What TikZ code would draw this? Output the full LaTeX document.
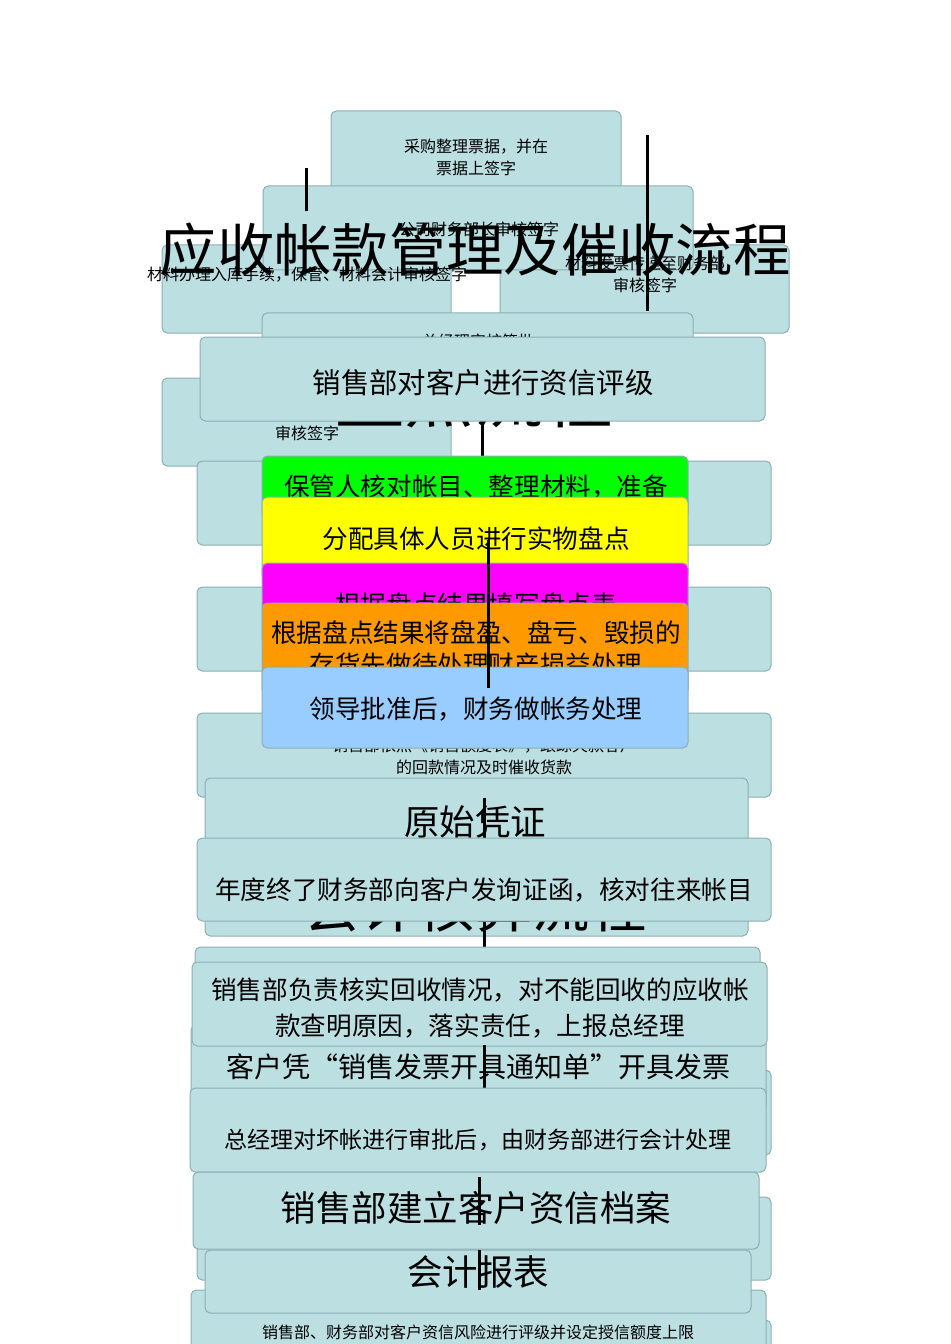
\documentclass[tikz,border=0pt]{standalone}
\usepackage{fontspec}
\setmainfont{Noto Sans CJK SC}
\usetikzlibrary{fit}
\definecolor{boxfill}{RGB}{188,223,226}
\definecolor{boxline}{RGB}{140,175,180}
\definecolor{stepgreen}{RGB}{0,255,0}
\definecolor{stepyellow}{RGB}{255,255,0}
\definecolor{steppink}{RGB}{255,0,255}
\definecolor{steporange}{RGB}{255,153,0}
\definecolor{stepblue}{RGB}{153,204,255}
\begin{document}
\begin{tikzpicture}[x=0.75pt,y=-0.75pt,
    box/.style={draw=boxline,fill=boxfill,rounded corners=4pt,line width=0.75pt,inner sep=0pt},
    link/.style={black,line width=2.25pt},
    sm/.style={font=\fontsize{12}{16.5}\selectfont,align=center,inner sep=0pt},
    md/.style={font=\fontsize{19.2}{27.5}\selectfont,align=center,inner sep=0pt},
    lg/.style={font=\fontsize{21.3}{26}\selectfont,align=center,inner sep=0pt},
    xl/.style={font=\fontsize{26.6}{32}\selectfont,inner sep=0pt},
    headline/.style={font=\fontsize{43}{50}\selectfont,inner sep=0pt}]
    \useasboundingbox (0,0) rectangle (950,1344);
    \clip (0,0) rectangle (950,1344);
    \node [box, fit={(331,111) (621,195)}] (buy) {};
    \node [sm] (buytxt) at (476,157) {采购整理票据，并在\\票据上签字};
    \node [box, fit={(162,245) (451,333)}] (storeL) {};
    \node [box, fit={(500,245) (789,333)}] (storeR) {};
    \node [box, fit={(263,186) (693,270)}] (chief) {};
    \node [sm] (chieftxt) at (479,229) {公司财务部长审核签字};
    \node [sm] (storeLtxt) at (307,275) {材料办理入库手续，保管、材料会计审核签字};
    \node [sm] (storeRtxt) at (645,274) {材料发票传递至财务部\\审核签字};
    \coordinate (s1) at (306,168);
    \coordinate (s2) at (306,211);
    \draw [link] (s1) -- (s2);
    \node [headline] (title) at (475,250) {应收帐款管理及催收流程};
    \coordinate (r1) at (647,135);
    \coordinate (r2) at (647,311);
    \draw [link] (r1) -- (r2);
    \node [box, fit={(162,378) (451,466)}] (signL) {};
    \node [sm] (signLtxt) at (307,433) {审核签字};
    \node [box, fit={(262,313) (693,400)}] (boss) {};
    \node [sm] (bosstxt) at (478,341) {总经理审核签批};
    \node [font=\fontsize{52}{60}\selectfont, inner sep=0pt] (stockhead) at (474,396) {盘点流程};
    \node [box, fit={(200,337) (765,421)}] (rating) {};
    \node [lg] (ratingtxt) at (483,383) {销售部对客户进行资信评级};
    \draw [link] (rating.south) -- (rating.south |- 0,456);
    \node [box, fit={(197,461) (771,545)}] (back1) {};
    \node [box, fit={(197,587) (771,671)}] (back2) {};
    \node [box, fill=stepgreen, fit={(262,456) (688,518)}] (keep) {};
    \node [md] (keeptxt) at (476,487) {保管人核对帐目、整理材料，准备};
    \node [box, fill=stepyellow, fit={(262,497) (688,580)}] (assign) {};
    \node [md] (assigntxt) at (476,539) {分配具体人员进行实物盘点};
    \node [box, fill=steppink, fit={(262,563) (688,645)}] (count) {};
    \node [md] (counttxt) at (476,605) {根据盘点结果填写盘点表};
    \node [box, fill=steporange, fit={(262,603) (688,695)}] (loss) {};
    \node [md, font=\fontsize{19.2}{24}\selectfont] (losstxt) at (476,649) {根据盘点结果将盘盈、盘亏、毁损的\\存货先做待处理财产损益处理};
    \node [box, fit={(197,713) (771,797)}] (trace) {};
    \node [sm] (tracetxt) at (484,756) {销售部依照《销售额度表》，跟踪欠款客户\\的回款情况及时催收货款};
    \node [box, fill=stepblue, fit={(262,667) (688,748)}] (approve) {};
    \node [md] (approvetxt) at (476,709) {领导批准后，财务做帐务处理};
    \coordinate (y1) at (488,540);
    \coordinate (y2) at (488,688);
    \draw [link] (y1) -- (y2);
    \node [box, fit={(205,778) (748,936)}] (voucher) {};
    \node [xl] (vouchertxt) at (475,822) {原始凭证};
    \node [headline] (accthead) at (475,906) {会计核算流程};
    \draw [link] (trace.south) -- (trace.south |- 0,838);
    \node [box, fit={(197,838) (771,921)}] (confirm) {};
    \node [md] (confirmtxt) at (484,890) {年度终了财务部向客户发询证函，核对往来帐目};
    \draw [link] (confirm.south) -- (confirm.south |- 0,962);
    \node [box, fit={(195,947) (760,1040)}] (back3) {};
    \node [box, fit={(197,1070) (771,1155)}] (back4) {};
    \node [box, fit={(191,1025) (766,1110)}] (invoice) {};
    \node [lg, font=\fontsize{21}{26}\selectfont] (invoicetxt) at (478,1067) {客户凭“销售发票开具通知单”开具发票};
    \node [box, fit={(192,962) (767,1046)}] (verify) {};
    \node [md] (verifytxt) at (480,1008) {销售部负责核实回收情况，对不能回收的应收帐\\款查明原因，落实责任，上报总经理};
    \draw [link] (confirm.south |- 0,1045) -- (confirm.south |- 0,1088);
    \node [box, fit={(190,1088) (766,1172)}] (baddebt) {};
    \node [inner sep=0pt, font=\fontsize{17.3}{22}\selectfont] (baddebttxt) at (478,1140) {总经理对坏帐进行审批后，由财务部进行会计处理};
    \node [box, fit={(197,1197) (771,1280)}] (back5) {};
    \node [box, fit={(193,1172) (759,1249)}] (archive) {};
    \node [xl] (archivetxt) at (476,1208) {销售部建立客户资信档案};
    \coordinate (k1) at (479,1177);
    \coordinate (k2) at (479,1225);
    \draw [link] (k1) -- (k2);
    \node [box, fit={(197,1320) (771,1400)}] (back6) {};
    \node [box, fit={(191,1290) (766,1380)}] (limit) {};
    \node [sm] (limittxt) at (478,1332) {销售部、财务部对客户资信风险进行评级并设定授信额度上限};
    \node [box, fit={(205,1250) (751,1313)}] (report) {};
    \node [xl] (reporttxt) at (478,1272) {会计报表};
    \coordinate (l1) at (479,1250);
    \coordinate (l2) at (479,1290);
    \draw [link] (l1) -- (l2);
\end{tikzpicture}
\end{document}
